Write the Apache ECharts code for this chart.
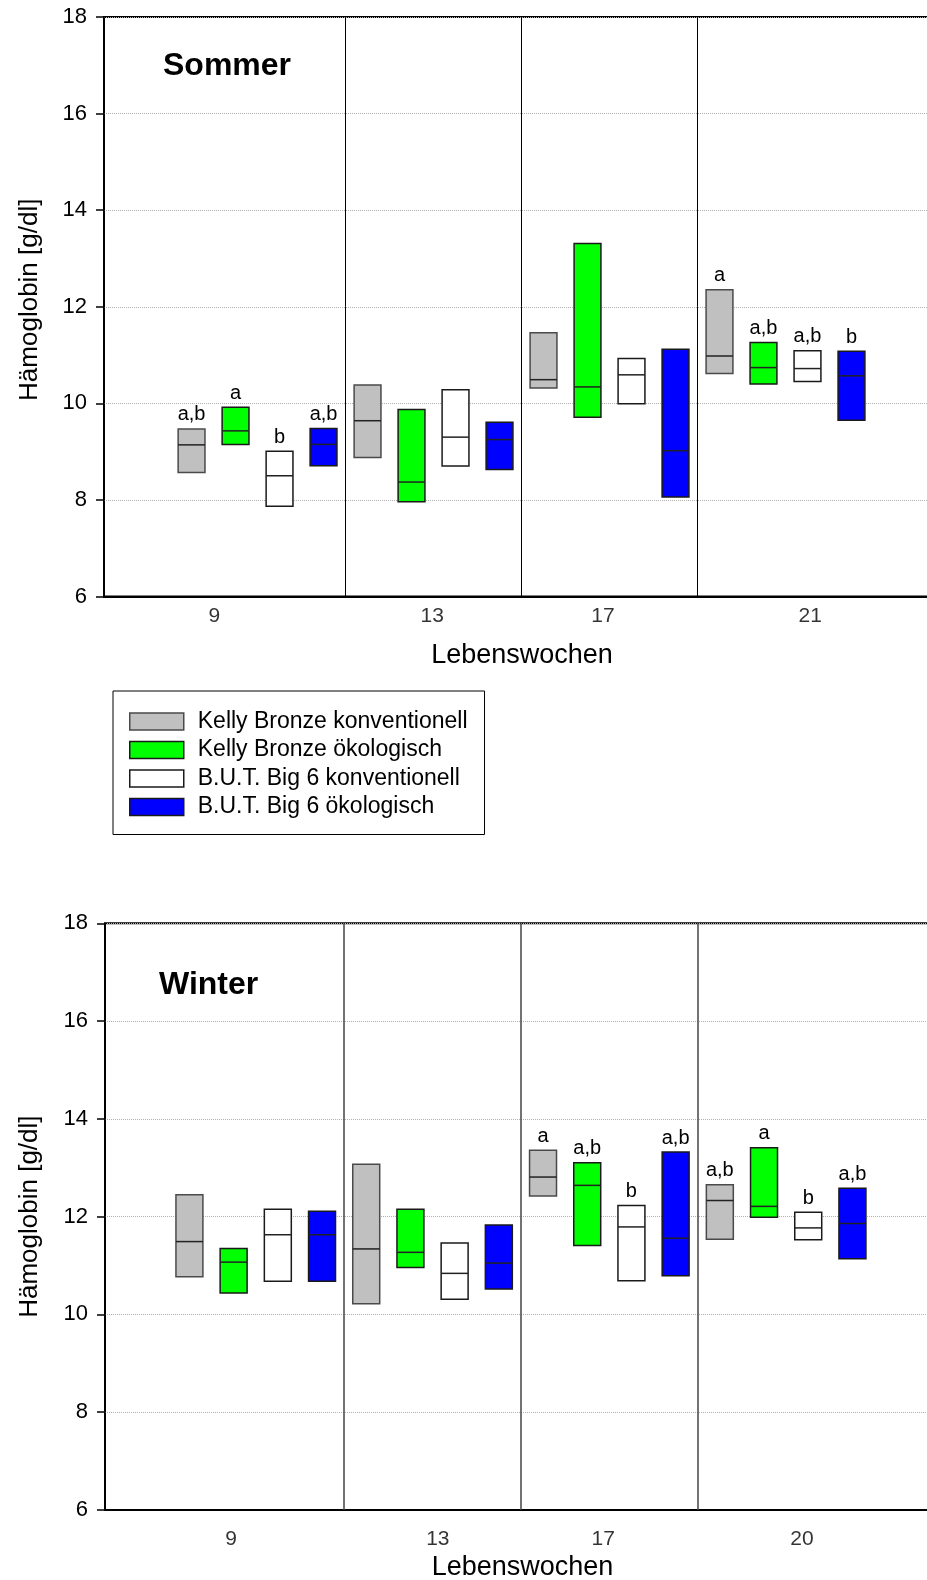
<!DOCTYPE html>
<html>
<head>
<meta charset="utf-8">
<script src="https://cdn.jsdelivr.net/npm/echarts@6/dist/echarts.min.js"></script>
<style>
html,body{margin:0;padding:0;background:#fff;}
#chart{width:927px;height:1580px;}
</style>
</head>
<body>
<div id="chart"></div>
<script>
// ---------- data ----------
const groupNames = ['Kelly Bronze konventionell', 'Kelly Bronze ökologisch', 'B.U.T. Big 6 konventionell', 'B.U.T. Big 6 ökologisch'];

const weeksSommer = ['9', '13', '17', '21'];
const weeksWinter = ['9', '13', '17', '20'];
// horizontal position of the week labels, in box-slot units
const weekLabelPosSommer = [0.52, 5.47, 9.35, 14.06];
const weekLabelPosWinter = [0.94, 5.62, 9.36, 13.86];

// rows: groups, columns: weeks
const sommerLow    = [[8.57, 8.88, 10.32, 10.62], [9.15, 7.96, 9.71, 10.40], [7.87, 8.70, 9.99, 10.45], [8.71, 8.63, 8.06, 9.65]];
const sommerMedian = [[9.14, 9.64, 10.49, 10.98], [9.43, 8.37, 10.34, 10.74], [8.50, 9.30, 10.59, 10.72], [9.15, 9.25, 9.02, 10.57]];
const sommerHigh   = [[9.47, 10.38, 11.46, 12.35], [9.92, 9.87, 13.31, 11.26], [9.01, 10.28, 10.93, 11.09], [9.48, 9.61, 11.12, 11.08]];
const sommerLetters = [['a,b', '', '', 'a'], ['a', '', '', 'a,b'], ['b', '', '', 'a,b'], ['a,b', '', '', 'b']];

const winterLow    = [[10.77, 10.22, 12.42, 11.54], [10.44, 10.96, 11.41, 11.99], [10.68, 10.31, 10.69, 11.53], [10.68, 10.52, 10.79, 11.14]];
const winterMedian = [[11.49, 11.34, 12.81, 12.33], [11.07, 11.27, 12.64, 12.21], [11.63, 10.84, 11.79, 11.77], [11.63, 11.05, 11.56, 11.86]];
const winterHigh   = [[12.45, 13.07, 13.36, 12.65], [11.35, 12.15, 13.10, 13.41], [12.15, 11.46, 12.23, 12.09], [12.11, 11.83, 13.32, 12.58]];
const winterLetters = [['', '', 'a', 'a,b'], ['', '', 'a,b', 'a'], ['', '', 'b', 'b'], ['', '', 'a,b', 'a,b']];

const yTicks = [6, 8, 10, 12, 14, 16, 18];

// ---------- styles ----------
const FONT = 'Liberation Sans, Arial, Helvetica, sans-serif';
const groupStyles = [
  { fill: '#c0c0c0', stroke: '#4a4a4a' },
  { fill: '#00ff00', stroke: '#1a1a1a' },
  { fill: '#ffffff', stroke: '#1a1a1a' },
  { fill: '#0000ff', stroke: '#1a1a1a' }
];
const BOX_HALF = 0.305;

const panels = [
  { title: 'Sommer', titleLeft: 163, titleTop: 50, grid: { left: 104, top: 17, width: 828, height: 579.5 },
    xMin: -1.99, xMax: 16.83, weeks: weeksSommer, labelPos: weekLabelPosSommer, labelDist: 9,
    low: sommerLow, med: sommerMedian, high: sommerHigh, letters: sommerLetters,
    sepColor: '#000', sepWidth: 1, yNameGap: 61, yNamePad: [0, 0, 0, 14], xNameGap: 46 },
  { title: 'Winter', titleLeft: 159, titleTop: 969, grid: { left: 105, top: 923.3, width: 827, height: 586.7 },
    xMin: -1.91, xMax: 16.80, weeks: weeksWinter, labelPos: weekLabelPosWinter, labelDist: 18,
    low: winterLow, med: winterMedian, high: winterHigh, letters: winterLetters,
    sepColor: '#444', sepWidth: 1.5, yNameGap: 62, yNamePad: [0, 0, 0, 0], xNameGap: 44 }
];

const grids = [], xAxes = [], yAxes = [], series = [], titles = [];

panels.forEach((p, pi) => {
  grids.push(Object.assign({ show: true, borderColor: '#000', borderWidth: 2, backgroundColor: 'transparent',
    containLabel: false, outerBoundsMode: 'none' }, p.grid));
  titles.push({ text: p.title, left: p.titleLeft, top: p.titleTop, padding: 0,
    textStyle: { fontFamily: FONT, fontSize: 32, fontWeight: 'bold', color: '#000' } });
  xAxes.push({
    type: 'value', gridIndex: pi, min: p.xMin, max: p.xMax,
    axisLine: { show: true, onZero: false, lineStyle: { color: '#000', width: 2 } },
    axisTick: { show: false }, axisLabel: { show: false }, splitLine: { show: false },
    name: 'Lebenswochen', nameLocation: 'middle', nameGap: p.xNameGap,
    nameTextStyle: { fontFamily: FONT, fontSize: 27, color: '#000', padding: [0, 0, 0, 8] }
  });
  yAxes.push({
    type: 'value', gridIndex: pi, min: yTicks[0], max: yTicks[yTicks.length - 1], interval: 2,
    axisLine: { show: true, onZero: false, lineStyle: { color: '#000', width: 1.5 } },
    axisTick: { show: true, inside: false, length: 8, lineStyle: { color: '#000', width: 1.5 } },
    axisLabel: { fontFamily: FONT, fontSize: 22, color: '#000', margin: 17 },
    splitLine: { show: true, lineStyle: { type: 'dotted', color: '#b0b0b0', width: 1 } },
    name: 'Hämoglobin [g/dl]', nameLocation: 'middle', nameGap: p.yNameGap,
    nameTextStyle: { fontFamily: FONT, fontSize: 26, color: '#000', padding: p.yNamePad }
  });

  groupNames.forEach((gName, g) => {
    const st = groupStyles[g];
    const rows = p.weeks.map((w, k) => [k * 4 + g, p.low[g][k], p.med[g][k], p.high[g][k]]);
    const letters = p.letters[g];
    series.push({
      type: 'custom', name: gName, xAxisIndex: pi, yAxisIndex: pi, silent: true,
      itemStyle: { color: st.fill, borderColor: st.stroke, borderWidth: 1.5 },
      dimensions: ['slot', 'low', 'median', 'high'],
      encode: { x: 0, y: [1, 2, 3] },
      data: rows,
      renderItem: function (params, api) {
        const x = api.value(0), lo = api.value(1), md = api.value(2), hi = api.value(3);
        const tl = api.coord([x - BOX_HALF, hi]);
        const br = api.coord([x + BOX_HALF, lo]);
        const ml = api.coord([x - BOX_HALF, md]);
        const mr = api.coord([x + BOX_HALF, md]);
        const children = [
          { type: 'rect', shape: { x: tl[0], y: tl[1], width: br[0] - tl[0], height: br[1] - tl[1] },
            style: { fill: st.fill, stroke: st.stroke, lineWidth: 1.5 } },
          { type: 'line', shape: { x1: ml[0], y1: ml[1], x2: mr[0], y2: mr[1] },
            style: { stroke: '#222', lineWidth: 1.5 } }
        ];
        const txt = letters[params.dataIndex];
        if (txt) {
          children.push({ type: 'text', style: { text: txt, x: (tl[0] + br[0]) / 2, y: tl[1] - 4,
            align: 'center', verticalAlign: 'bottom', fontFamily: FONT, fontSize: 20, fill: '#000' } });
        }
        return { type: 'group', children: children };
      }
    });
  });

  // week labels + group separators
  series.push({
    type: 'scatter', xAxisIndex: pi, yAxisIndex: pi, silent: true, clip: false,
    symbolSize: 1, itemStyle: { color: 'rgba(0,0,0,0)' },
    data: p.labelPos.map((x, k) => ({ value: [x, yTicks[0]],
      label: { show: true, position: 'bottom', distance: p.labelDist, formatter: p.weeks[k],
        fontFamily: FONT, fontSize: 21, color: '#000' } })),
    markLine: {
      silent: true, symbol: ['none', 'none'], label: { show: false },
      lineStyle: { color: p.sepColor, width: p.sepWidth, type: 'solid' },
      data: [1, 2, 3].map(k => ({ xAxis: k * 4 - 0.5 }))
    },
    z: 5
  });
});

const chart = echarts.init(document.getElementById('chart'), null, { renderer: 'canvas' });
chart.setOption({
  backgroundColor: '#fff',
  animation: false,
  title: titles,
  grid: grids,
  xAxis: xAxes,
  yAxis: yAxes,
  legend: {
    orient: 'vertical', left: 113, top: 691, padding: [19, 17, 16, 16],
    borderColor: '#000', borderWidth: 1, backgroundColor: '#fff',
    itemWidth: 54, itemHeight: 17, itemGap: 5.5, icon: 'rect',
    selectedMode: false,
    textStyle: { fontFamily: FONT, fontSize: 23, color: '#000', padding: [0, 0, 0, 9] },
    data: groupNames.map((n, g) => ({ name: n,
      itemStyle: { color: groupStyles[g].fill, borderColor: groupStyles[g].stroke, borderWidth: 1.5 } }))
  },
  series: series
});
</script>
</body>
</html>
